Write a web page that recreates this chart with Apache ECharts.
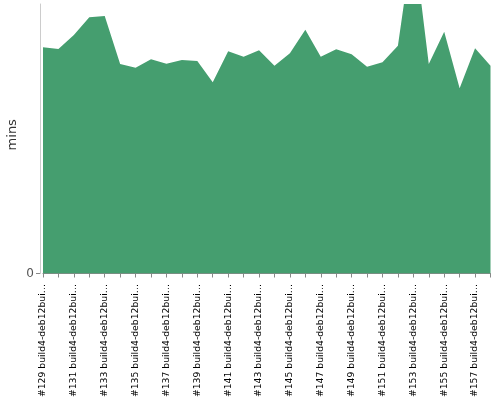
<!DOCTYPE html>
<html>
<head>
<meta charset="utf-8">
<script src="https://cdn.jsdelivr.net/npm/echarts@6/dist/echarts.min.js"></script>
<style>html,body{margin:0;padding:0;background:#fff}#c{width:500px;height:400px}</style>
</head>
<body>
<div id="c"></div>
<script>
var builds = ["#129","#130","#131","#132","#133","#134","#135","#136","#137","#138",
  "#139","#140","#141","#142","#143","#144","#145","#146","#147","#148",
  "#149","#150","#151","#152","#153","#154","#155","#156","#157","#158"];
var categories = builds.map(function (b) { return b + " build4-deb12builder"; });
var durations = [41.97,41.65,44.25,47.53,47.77,38.87,38.18,39.74,38.92,39.61,
  39.43,35.47,41.22,40.22,41.41,38.55,40.85,45.23,40.22,41.60,
  40.67,38.37,39.18,42.26,62.25,38.87,44.86,34.36,41.78,38.55];
var yMax = 50;

var FONT = 'DejaVu Sans, Verdana, sans-serif';
var chart = echarts.init(document.getElementById('c'), null, {renderer: 'canvas'});
chart.setOption({
  animation: false,
  grid: {left: 43, right: 9.5, top: 4, bottom: 126.5, containLabel: false, outerBoundsMode: 'none'},
  xAxis: {
    type: 'category',
    data: categories,
    boundaryGap: false,
    offset: 4.5,
    axisLine: {lineStyle: {color: '#888', width: 1}},
    axisTick: {show: true, interval: 0, length: 4, lineStyle: {color: '#888'}},
    axisLabel: {
      interval: 1, rotate: 90, color: '#000', fontSize: 9.25,
      fontFamily: FONT, margin: 6,
      formatter: function (v) { return v.length > 20 ? v.slice(0, 20) + '\u2026' : v; }
    },
    splitLine: {show: false}
  },
  yAxis: {
    type: 'value',
    min: 0, max: yMax, interval: yMax,
    offset: 3,
    name: 'mins',
    nameLocation: 'middle',
    nameGap: 21,
    nameMoveOverlap: false,
    nameRotate: 90,
    nameTextStyle: {color: '#333', fontSize: 13, fontFamily: FONT, padding: [0, 0, 0, 8]},
    axisLine: {show: true, lineStyle: {color: '#ccc', width: 1}},
    axisTick: {show: true, length: 4, lineStyle: {color: '#888'}},
    axisLabel: {
      color: '#555', fontSize: 12, fontFamily: FONT, margin: 6,
      showMaxLabel: false
    },
    splitLine: {show: false}
  },
  series: [{
    type: 'line',
    data: durations,
    symbol: 'none',
    smooth: false,
    clip: true,
    lineStyle: {width: 0},
    areaStyle: {color: '#459e6f', opacity: 1},
    itemStyle: {color: '#459e6f'}
  }]
});
</script>
</body>
</html>
